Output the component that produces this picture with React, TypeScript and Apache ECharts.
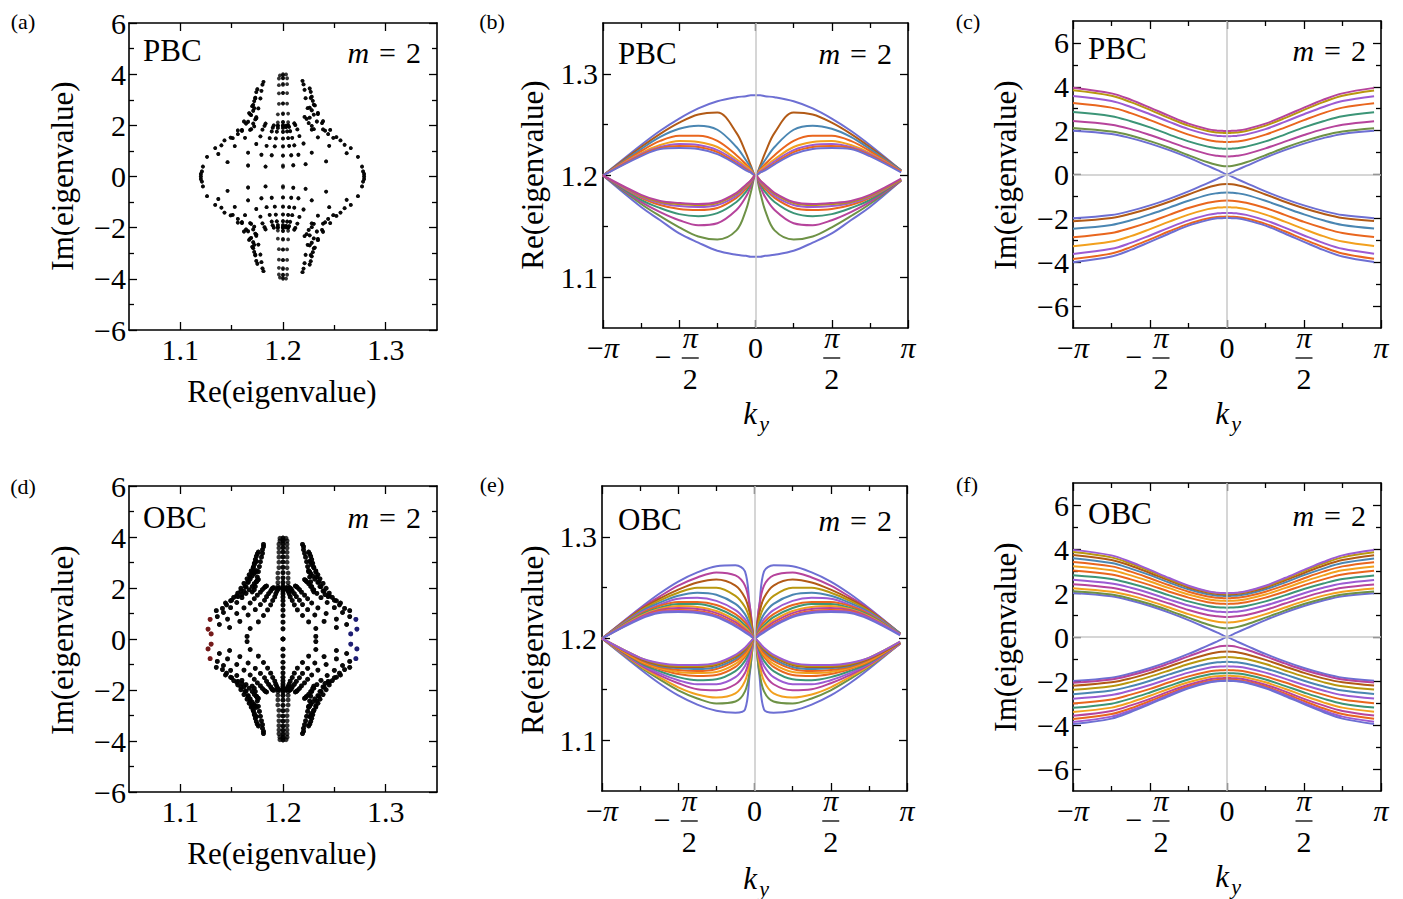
import React, { useEffect, useRef } from "react";
import * as echarts from "echarts";

const PI = Math.PI;
const FONT = "'Liberation Serif', 'Times New Roman', serif";

// ky sample positions shared by all band curves
const KY = [-3.1416, -2.3562, -1.9635, -1.5708, -1.1781, -0.7854, -0.3927, -0.1963, -0.0982, 0, 0.0982, 0.1963, 0.3927, 0.7854, 1.1781, 1.5708, 1.9635, 2.3562, 3.0];

// tick values / labels
const reTicks = [1.1, 1.2, 1.3];
const reMinor = [1.15, 1.25];
const imTicks = [-6, -4, -2, 0, 2, 4, 6];
const imMinor = [-5, -3, -1, 1, 3, 5];
const kyTicks = [-PI, -PI / 2, 0, PI / 2, PI];
const kyMinor = [-3 * PI / 4, -PI / 4, PI / 4, 3 * PI / 4];
const kyPlainLabels = [-PI, 0, PI];
const kyFracLabels = [-PI / 2, PI / 2];

// palette
const P = "#6d6fd3", Br = "#b25a16", Bl = "#4a86b2", Or = "#e9661e", Yo = "#f2a01e", Vi = "#9c5bd3", Mg = "#b6449c", Te = "#3c9577", Gr = "#6e9246", Go = "#b8970f";

// ---------- PBC, Re (branch above 1.2) ----------
const pbcReUp0 = [1.200,1.230,1.244,1.256,1.266,1.273,1.277,1.278,1.279,1.279,1.279,1.278,1.277,1.273,1.266,1.256,1.244,1.230,1.205];
const pbcReUp1 = [1.200,1.228,1.241,1.252,1.260,1.262,1.242,1.222,1.210,1.200,1.210,1.222,1.242,1.262,1.260,1.252,1.241,1.228,1.205];
const pbcReUp2 = [1.200,1.226,1.238,1.246,1.249,1.245,1.228,1.215,1.208,1.200,1.208,1.215,1.228,1.245,1.249,1.246,1.238,1.226,1.205];
const pbcReUp3 = [1.200,1.224,1.234,1.239,1.239,1.234,1.220,1.211,1.206,1.200,1.206,1.211,1.220,1.234,1.239,1.239,1.234,1.224,1.204];
const pbcReUp4 = [1.200,1.222,1.230,1.234,1.233,1.228,1.216,1.209,1.205,1.200,1.205,1.209,1.216,1.228,1.233,1.234,1.230,1.222,1.204];
const pbcReUp5 = [1.200,1.221,1.228,1.231,1.230,1.225,1.214,1.207,1.204,1.200,1.204,1.207,1.214,1.225,1.230,1.231,1.228,1.221,1.204];
const pbcReUp6 = [1.200,1.220,1.227,1.229,1.228,1.223,1.212,1.206,1.203,1.200,1.203,1.206,1.212,1.223,1.228,1.229,1.227,1.220,1.204];
const pbcReUp7 = [1.200,1.219,1.226,1.227,1.226,1.221,1.211,1.205,1.203,1.200,1.203,1.205,1.211,1.221,1.226,1.227,1.226,1.219,1.203];
// ---------- PBC, Re (branch below 1.2) ----------
const pbcReLo0 = [1.200,1.169,1.156,1.143,1.134,1.126,1.122,1.121,1.120,1.120,1.120,1.121,1.122,1.126,1.134,1.143,1.156,1.169,1.195];
const pbcReLo1 = [1.200,1.172,1.160,1.149,1.140,1.137,1.146,1.166,1.183,1.200,1.183,1.166,1.146,1.137,1.140,1.149,1.160,1.172,1.195];
const pbcReLo2 = [1.200,1.174,1.164,1.156,1.151,1.153,1.166,1.179,1.189,1.200,1.189,1.179,1.166,1.153,1.151,1.156,1.164,1.174,1.195];
const pbcReLo3 = [1.200,1.176,1.168,1.162,1.160,1.163,1.174,1.184,1.192,1.200,1.192,1.184,1.174,1.163,1.160,1.162,1.168,1.176,1.196];
const pbcReLo4 = [1.200,1.178,1.171,1.167,1.166,1.168,1.178,1.187,1.193,1.200,1.193,1.187,1.178,1.168,1.166,1.167,1.171,1.178,1.196];
const pbcReLo5 = [1.200,1.179,1.173,1.170,1.169,1.171,1.180,1.189,1.194,1.200,1.194,1.189,1.180,1.171,1.169,1.170,1.173,1.179,1.196];
const pbcReLo6 = [1.200,1.180,1.174,1.172,1.171,1.173,1.182,1.190,1.195,1.200,1.195,1.190,1.182,1.173,1.171,1.172,1.174,1.180,1.196];
const pbcReLo7 = [1.200,1.181,1.175,1.173,1.172,1.174,1.183,1.191,1.195,1.200,1.195,1.191,1.183,1.174,1.172,1.173,1.175,1.181,1.197];
// ---------- PBC, Im (positive band, pairs with Re below 1.2) ----------
const pbcImUp0 = [2.00,1.85,1.66,1.41,1.11,0.77,0.39,0.20,0.10,0.00,0.10,0.20,0.39,0.77,1.11,1.41,1.66,1.85,1.99];
const pbcImUp1 = [2.12,1.96,1.78,1.52,1.22,0.88,0.56,0.43,0.39,0.38,0.39,0.43,0.56,0.88,1.22,1.52,1.78,1.96,2.11];
const pbcImUp2 = [2.44,2.27,2.07,1.80,1.50,1.19,0.93,0.85,0.83,0.82,0.83,0.85,0.93,1.19,1.50,1.80,2.07,2.27,2.43];
const pbcImUp3 = [2.85,2.66,2.43,2.15,1.82,1.51,1.27,1.20,1.18,1.17,1.18,1.20,1.27,1.51,1.82,2.15,2.43,2.66,2.84];
const pbcImUp4 = [3.26,3.05,2.80,2.48,2.14,1.82,1.57,1.50,1.49,1.48,1.49,1.50,1.57,1.82,2.14,2.48,2.80,3.05,3.25];
const pbcImUp5 = [3.58,3.35,3.08,2.75,2.40,2.07,1.83,1.76,1.75,1.74,1.75,1.76,1.83,2.07,2.40,2.75,3.08,3.35,3.57];
const pbcImUp6 = [3.84,3.59,3.30,2.95,2.57,2.23,1.98,1.91,1.90,1.89,1.90,1.91,1.98,2.23,2.57,2.95,3.30,3.59,3.83];
const pbcImUp7 = [3.96,3.70,3.41,3.05,2.67,2.32,2.07,2.00,1.99,1.98,1.99,2.00,2.07,2.32,2.67,3.05,3.41,3.70,3.95];
// ---------- PBC, Im (negative band, pairs with Re above 1.2) ----------
const pbcImLo0 = [-2.00,-1.85,-1.66,-1.41,-1.11,-0.77,-0.39,-0.20,-0.10,0.00,-0.10,-0.20,-0.39,-0.77,-1.11,-1.41,-1.66,-1.85,-1.99];
const pbcImLo1 = [-2.13,-1.98,-1.79,-1.54,-1.24,-0.91,-0.59,-0.48,-0.44,-0.43,-0.44,-0.48,-0.59,-0.91,-1.24,-1.54,-1.79,-1.98,-2.12];
const pbcImLo2 = [-2.47,-2.30,-2.09,-1.82,-1.51,-1.20,-0.93,-0.85,-0.83,-0.82,-0.83,-0.85,-0.93,-1.20,-1.51,-1.82,-2.09,-2.30,-2.46];
const pbcImLo3 = [-2.86,-2.67,-2.44,-2.16,-1.84,-1.53,-1.29,-1.22,-1.20,-1.19,-1.20,-1.22,-1.29,-1.53,-1.84,-2.16,-2.44,-2.67,-2.85];
const pbcImLo4 = [-3.27,-3.06,-2.81,-2.49,-2.15,-1.83,-1.58,-1.51,-1.50,-1.49,-1.50,-1.51,-1.58,-1.83,-2.15,-2.49,-2.81,-3.06,-3.26];
const pbcImLo5 = [-3.62,-3.39,-3.12,-2.78,-2.42,-2.09,-1.84,-1.77,-1.76,-1.75,-1.76,-1.77,-1.84,-2.09,-2.42,-2.78,-3.12,-3.39,-3.61];
const pbcImLo6 = [-3.85,-3.60,-3.31,-2.96,-2.59,-2.25,-2.01,-1.94,-1.93,-1.92,-1.93,-1.94,-2.01,-2.25,-2.59,-2.96,-3.31,-3.60,-3.84];
const pbcImLo7 = [-4.00,-3.74,-3.44,-3.07,-2.69,-2.33,-2.08,-2.00,-1.99,-1.98,-1.99,-2.00,-2.08,-2.33,-2.69,-3.07,-3.44,-3.74,-3.99];

// ---------- OBC, Re (branch above 1.2) ----------
const obcReUp0 = [1.200,1.230,1.244,1.256,1.265,1.271,1.272,1.266,1.232,1.200,1.232,1.266,1.272,1.271,1.265,1.256,1.244,1.230,1.205];
const obcReUp1 = [1.200,1.229,1.241,1.252,1.260,1.265,1.262,1.252,1.232,1.200,1.232,1.252,1.262,1.265,1.260,1.252,1.241,1.229,1.205];
const obcReUp2 = [1.200,1.228,1.239,1.248,1.255,1.258,1.252,1.240,1.225,1.200,1.225,1.240,1.252,1.258,1.255,1.248,1.239,1.228,1.205];
const obcReUp3 = [1.200,1.227,1.237,1.245,1.250,1.250,1.242,1.231,1.219,1.200,1.219,1.231,1.242,1.250,1.250,1.245,1.237,1.227,1.205];
const obcReUp4 = [1.200,1.226,1.235,1.242,1.245,1.243,1.234,1.224,1.214,1.200,1.214,1.224,1.234,1.243,1.245,1.242,1.235,1.226,1.205];
const obcReUp5 = [1.200,1.225,1.233,1.239,1.240,1.237,1.228,1.219,1.211,1.200,1.211,1.219,1.228,1.237,1.240,1.239,1.233,1.225,1.204];
const obcReUp6 = [1.200,1.224,1.232,1.236,1.236,1.233,1.224,1.216,1.209,1.200,1.209,1.216,1.224,1.233,1.236,1.236,1.232,1.224,1.204];
const obcReUp7 = [1.200,1.223,1.230,1.234,1.234,1.230,1.221,1.213,1.207,1.200,1.207,1.213,1.221,1.230,1.234,1.234,1.230,1.223,1.204];
const obcReUp8 = [1.200,1.222,1.229,1.232,1.231,1.227,1.218,1.211,1.206,1.200,1.206,1.211,1.218,1.227,1.231,1.232,1.229,1.222,1.204];
const obcReUp9 = [1.200,1.221,1.228,1.230,1.229,1.225,1.216,1.209,1.205,1.200,1.205,1.209,1.216,1.225,1.229,1.230,1.228,1.221,1.204];
const obcReUp10 = [1.200,1.220,1.227,1.228,1.227,1.223,1.214,1.208,1.204,1.200,1.204,1.208,1.214,1.223,1.227,1.228,1.227,1.220,1.204];
const obcReUp11 = [1.200,1.220,1.226,1.227,1.226,1.222,1.213,1.207,1.204,1.200,1.204,1.207,1.213,1.222,1.226,1.227,1.226,1.220,1.204];
const obcReUp12 = [1.200,1.219,1.225,1.226,1.225,1.221,1.212,1.206,1.203,1.200,1.203,1.206,1.212,1.221,1.225,1.226,1.225,1.219,1.203];
// ---------- OBC, Re (branch below 1.2) ----------
const obcReLo0 = [1.200,1.170,1.156,1.144,1.135,1.129,1.127,1.130,1.165,1.200,1.165,1.130,1.127,1.129,1.135,1.144,1.156,1.170,1.195];
const obcReLo1 = [1.200,1.172,1.160,1.149,1.141,1.136,1.138,1.148,1.168,1.200,1.168,1.148,1.138,1.136,1.141,1.149,1.160,1.172,1.195];
const obcReLo2 = [1.200,1.173,1.162,1.152,1.145,1.142,1.146,1.158,1.176,1.200,1.176,1.158,1.146,1.142,1.145,1.152,1.162,1.173,1.195];
const obcReLo3 = [1.200,1.174,1.164,1.156,1.150,1.149,1.155,1.166,1.181,1.200,1.181,1.166,1.155,1.149,1.150,1.156,1.164,1.174,1.195];
const obcReLo4 = [1.200,1.175,1.166,1.159,1.155,1.155,1.162,1.173,1.185,1.200,1.185,1.173,1.162,1.155,1.155,1.159,1.166,1.175,1.195];
const obcReLo5 = [1.200,1.176,1.168,1.162,1.159,1.160,1.168,1.178,1.188,1.200,1.188,1.178,1.168,1.160,1.159,1.162,1.168,1.176,1.196];
const obcReLo6 = [1.200,1.177,1.170,1.165,1.163,1.164,1.172,1.182,1.190,1.200,1.190,1.182,1.172,1.164,1.163,1.165,1.170,1.177,1.196];
const obcReLo7 = [1.200,1.178,1.171,1.167,1.166,1.167,1.175,1.184,1.192,1.200,1.192,1.184,1.175,1.167,1.166,1.167,1.171,1.178,1.196];
const obcReLo8 = [1.200,1.179,1.172,1.169,1.168,1.170,1.178,1.186,1.193,1.200,1.193,1.186,1.178,1.170,1.168,1.169,1.172,1.179,1.196];
const obcReLo9 = [1.200,1.180,1.173,1.171,1.170,1.172,1.180,1.188,1.194,1.200,1.194,1.188,1.180,1.172,1.170,1.171,1.173,1.180,1.196];
const obcReLo10 = [1.200,1.180,1.174,1.172,1.172,1.174,1.182,1.189,1.195,1.200,1.195,1.189,1.182,1.174,1.172,1.172,1.174,1.180,1.196];
const obcReLo11 = [1.200,1.181,1.175,1.173,1.173,1.175,1.183,1.190,1.195,1.200,1.195,1.190,1.183,1.175,1.173,1.173,1.175,1.181,1.197];
const obcReLo12 = [1.200,1.181,1.176,1.174,1.174,1.176,1.184,1.191,1.196,1.200,1.196,1.191,1.184,1.176,1.174,1.174,1.176,1.181,1.197];
// ---------- OBC, Im (positive band) ----------
const obcImUp0 = [2.00,1.85,1.66,1.41,1.11,0.77,0.39,0.20,0.10,0.00,0.10,0.20,0.39,0.77,1.11,1.41,1.66,1.85,1.99];
const obcImUp1 = [2.08,1.93,1.74,1.50,1.20,0.88,0.57,0.45,0.41,0.40,0.41,0.45,0.57,0.88,1.20,1.50,1.74,1.93,2.07];
const obcImUp2 = [2.22,2.06,1.88,1.63,1.34,1.04,0.78,0.69,0.67,0.66,0.67,0.69,0.78,1.04,1.34,1.63,1.88,2.06,2.21];
const obcImUp3 = [2.40,2.24,2.05,1.80,1.52,1.23,1.00,0.94,0.92,0.91,0.92,0.94,1.00,1.23,1.52,1.80,2.05,2.24,2.39];
const obcImUp4 = [2.60,2.43,2.24,1.99,1.70,1.43,1.22,1.15,1.14,1.13,1.14,1.15,1.22,1.43,1.70,1.99,2.24,2.43,2.59];
const obcImUp5 = [2.81,2.64,2.43,2.18,1.89,1.62,1.41,1.35,1.34,1.33,1.34,1.35,1.41,1.62,1.89,2.18,2.43,2.64,2.80];
const obcImUp6 = [3.02,2.84,2.62,2.36,2.06,1.79,1.58,1.52,1.51,1.50,1.51,1.52,1.58,1.79,2.06,2.36,2.62,2.84,3.01];
const obcImUp7 = [3.22,3.03,2.80,2.52,2.22,1.93,1.72,1.66,1.65,1.64,1.65,1.66,1.72,1.93,2.22,2.52,2.80,3.03,3.21];
const obcImUp8 = [3.41,3.21,2.97,2.67,2.35,2.06,1.84,1.78,1.77,1.76,1.77,1.78,1.84,2.06,2.35,2.67,2.97,3.21,3.40];
const obcImUp9 = [3.58,3.36,3.11,2.81,2.47,2.17,1.94,1.88,1.87,1.86,1.87,1.88,1.94,2.17,2.47,2.81,3.11,3.36,3.57];
const obcImUp10 = [3.73,3.50,3.24,2.91,2.57,2.25,2.02,1.95,1.94,1.93,1.94,1.95,2.02,2.25,2.57,2.91,3.24,3.50,3.72];
const obcImUp11 = [3.86,3.62,3.34,3.00,2.63,2.30,2.06,2.00,1.98,1.97,1.98,2.00,2.06,2.30,2.63,3.00,3.34,3.62,3.85];
const obcImUp12 = [3.96,3.71,3.41,3.05,2.68,2.33,2.08,2.01,2.00,1.99,2.00,2.01,2.08,2.33,2.68,3.05,3.41,3.71,3.95];
// ---------- OBC, Im (negative band) ----------
const obcImLo0 = [-2.00,-1.85,-1.66,-1.41,-1.11,-0.77,-0.39,-0.20,-0.10,0.00,-0.10,-0.20,-0.39,-0.77,-1.11,-1.41,-1.66,-1.85,-1.99];
const obcImLo1 = [-2.08,-1.93,-1.74,-1.50,-1.20,-0.88,-0.57,-0.45,-0.41,-0.40,-0.41,-0.45,-0.57,-0.88,-1.20,-1.50,-1.74,-1.93,-2.07];
const obcImLo2 = [-2.22,-2.06,-1.88,-1.63,-1.34,-1.04,-0.78,-0.69,-0.67,-0.66,-0.67,-0.69,-0.78,-1.04,-1.34,-1.63,-1.88,-2.06,-2.21];
const obcImLo3 = [-2.40,-2.24,-2.05,-1.80,-1.52,-1.23,-1.00,-0.94,-0.92,-0.91,-0.92,-0.94,-1.00,-1.23,-1.52,-1.80,-2.05,-2.24,-2.39];
const obcImLo4 = [-2.60,-2.43,-2.24,-1.99,-1.70,-1.43,-1.22,-1.15,-1.14,-1.13,-1.14,-1.15,-1.22,-1.43,-1.70,-1.99,-2.24,-2.43,-2.59];
const obcImLo5 = [-2.81,-2.64,-2.43,-2.18,-1.89,-1.62,-1.41,-1.35,-1.34,-1.33,-1.34,-1.35,-1.41,-1.62,-1.89,-2.18,-2.43,-2.64,-2.80];
const obcImLo6 = [-3.02,-2.84,-2.62,-2.36,-2.06,-1.79,-1.58,-1.52,-1.51,-1.50,-1.51,-1.52,-1.58,-1.79,-2.06,-2.36,-2.62,-2.84,-3.01];
const obcImLo7 = [-3.22,-3.03,-2.80,-2.52,-2.22,-1.93,-1.72,-1.66,-1.65,-1.64,-1.65,-1.66,-1.72,-1.93,-2.22,-2.52,-2.80,-3.03,-3.21];
const obcImLo8 = [-3.41,-3.21,-2.97,-2.67,-2.35,-2.06,-1.84,-1.78,-1.77,-1.76,-1.77,-1.78,-1.84,-2.06,-2.35,-2.67,-2.97,-3.21,-3.40];
const obcImLo9 = [-3.58,-3.36,-3.11,-2.81,-2.47,-2.17,-1.94,-1.88,-1.87,-1.86,-1.87,-1.88,-1.94,-2.17,-2.47,-2.81,-3.11,-3.36,-3.57];
const obcImLo10 = [-3.73,-3.50,-3.24,-2.91,-2.57,-2.25,-2.02,-1.95,-1.94,-1.93,-1.94,-1.95,-2.02,-2.25,-2.57,-2.91,-3.24,-3.50,-3.72];
const obcImLo11 = [-3.86,-3.62,-3.34,-3.00,-2.63,-2.30,-2.06,-2.00,-1.98,-1.97,-1.98,-2.00,-2.06,-2.30,-2.63,-3.00,-3.34,-3.62,-3.85];
const obcImLo12 = [-3.96,-3.71,-3.41,-3.05,-2.68,-2.33,-2.08,-2.01,-2.00,-1.99,-2.00,-2.01,-2.08,-2.33,-2.68,-3.05,-3.41,-3.71,-3.95];

const pbcReUp = [pbcReUp0, pbcReUp1, pbcReUp2, pbcReUp3, pbcReUp4, pbcReUp5, pbcReUp6, pbcReUp7];
const pbcReLo = [pbcReLo0, pbcReLo1, pbcReLo2, pbcReLo3, pbcReLo4, pbcReLo5, pbcReLo6, pbcReLo7];
const pbcImUp = [pbcImUp0, pbcImUp1, pbcImUp2, pbcImUp3, pbcImUp4, pbcImUp5, pbcImUp6, pbcImUp7];
const pbcImLo = [pbcImLo0, pbcImLo1, pbcImLo2, pbcImLo3, pbcImLo4, pbcImLo5, pbcImLo6, pbcImLo7];
const pbcColA = [P, Br, Bl, Or, Yo, Vi, Or, P]; // Re above / Im negative
const pbcColB = [P, Gr, Mg, Te, Or, Vi, Go, Mg]; // Re below / Im positive

const obcReUp = [obcReUp0, obcReUp1, obcReUp2, obcReUp3, obcReUp4, obcReUp5, obcReUp6, obcReUp7, obcReUp8, obcReUp9, obcReUp10, obcReUp11, obcReUp12];
const obcReLo = [obcReLo0, obcReLo1, obcReLo2, obcReLo3, obcReLo4, obcReLo5, obcReLo6, obcReLo7, obcReLo8, obcReLo9, obcReLo10, obcReLo11, obcReLo12];
const obcImUp = [obcImUp0, obcImUp1, obcImUp2, obcImUp3, obcImUp4, obcImUp5, obcImUp6, obcImUp7, obcImUp8, obcImUp9, obcImUp10, obcImUp11, obcImUp12];
const obcImLo = [obcImLo0, obcImLo1, obcImLo2, obcImLo3, obcImLo4, obcImLo5, obcImLo6, obcImLo7, obcImLo8, obcImLo9, obcImLo10, obcImLo11, obcImLo12];
const obcColA = [P, Mg, Br, Go, Bl, Vi, Or, Te, Yo, Mg, Or, Vi, P];
const obcColB = [P, Gr, Yo, Mg, Vi, Te, Or, Yo, Or, Bl, Br, Go, Vi];

const GRIDS = [
  { left: 129, top: 23, width: 308, height: 307 },
  { left: 603, top: 23, width: 305, height: 305 },
  { left: 1073, top: 21, width: 308, height: 307 },
  { left: 129, top: 486, width: 308, height: 306 },
  { left: 602, top: 486, width: 305, height: 305 },
  { left: 1073, top: 483, width: 308, height: 308 },
];

const LFS = 30; // tick label font size
const labelRich = {
  t: { fontSize: LFS, fontFamily: FONT, color: "#000", lineHeight: LFS },
  p: { fontSize: LFS, fontFamily: FONT, fontStyle: "italic", color: "#000", lineHeight: LFS },
};
const wrap = (s: string) => "{t|" + s + "}";
const minusFmt = (v: number) => wrap(v < 0 ? "\u2212" + Math.abs(v) : String(v));
const fixFmt = (v: number) => wrap(v.toFixed(1));

const SPEC_SC_X = { min: 1.05, max: 1.35, majors: reTicks, minors: reMinor, labels: reTicks, fmt: fixFmt, margin: 4 };
const SPEC_SC_Y = { min: -6, max: 6, majors: imTicks, minors: imMinor, labels: imTicks, fmt: minusFmt, margin: 3 };
const SPEC_RE_Y = { min: 1.05, max: 1.35, majors: reTicks, minors: reMinor, labels: reTicks, fmt: fixFmt, margin: 5 };
const SPEC_IM_Y = { min: -7, max: 7, majors: imTicks, minors: imMinor, labels: imTicks, fmt: minusFmt, margin: 4 };
const SPEC_KY_X = {
  min: -PI, max: PI, majors: kyTicks, minors: kyMinor, labels: kyPlainLabels,
  fmt: (v: number) => (v < -1 ? "{t|\u2212}{p|\u03c0}" : v > 1 ? "{p|\u03c0}" : "{t|0}"),
  margin: 4,
};

function makeAxes(g: number, dim: "x" | "y", spec: any) {
  const lineStyle = { color: "#000", width: 1.6 };
  const tickStyle = { color: "#000", width: 1.3 };
  const pos = dim === "x" ? ["bottom", "top"] : ["left", "right"];
  const base = { gridIndex: g, type: "value", min: spec.min, max: spec.max, splitLine: { show: false }, silent: true, axisPointer: { show: false } };
  const lab = {
    show: true, customValues: spec.labels, formatter: spec.fmt, margin: spec.margin,
    fontSize: LFS, fontFamily: FONT, color: "#000", lineHeight: LFS, showMinLabel: true, showMaxLabel: true,
    rich: labelRich,
  };
  return [
    { ...base, position: pos[0], axisLine: { show: true, onZero: false, lineStyle }, axisTick: { show: true, inside: true, length: 8, customValues: spec.majors, lineStyle: tickStyle }, axisLabel: lab },
    { ...base, position: pos[0], axisLine: { show: false, onZero: false }, axisTick: { show: true, inside: true, length: 5, customValues: spec.minors, lineStyle: tickStyle }, axisLabel: { show: false } },
    { ...base, position: pos[1], axisLine: { show: true, onZero: false, lineStyle }, axisTick: { show: true, inside: true, length: 8, customValues: spec.majors, lineStyle: tickStyle }, axisLabel: { show: false } },
    { ...base, position: pos[1], axisLine: { show: false, onZero: false }, axisTick: { show: true, inside: true, length: 5, customValues: spec.minors, lineStyle: tickStyle }, axisLabel: { show: false } },
  ];
}

function lineSeries(g: number, arrays: number[][], colors: string[]) {
  return arrays.map((arr, j) => ({
    type: "line", xAxisIndex: 4 * g, yAxisIndex: 4 * g, silent: true,
    data: KY.map((k, i) => [k, arr[i]]), showSymbol: false, symbol: "none",
    smooth: 0.35, lineStyle: { width: 2, color: colors[j] }, itemStyle: { color: colors[j] }, z: 3,
  }));
}

function refLines(g: number, withH: boolean) {
  const data: any[] = [{ xAxis: 0 }];
  if (withH) data.push({ yAxis: 0 });
  return {
    type: "line", xAxisIndex: 4 * g, yAxisIndex: 4 * g, data: [], silent: true, z: 1,
    markLine: { silent: true, symbol: "none", label: { show: false }, lineStyle: { color: "#c9c9c9", type: "solid", width: 1.5 }, data, animation: false },
  };
}

function scatterSeries(g: number, reA: number[][], imA: number[][], reB: number[][], imB: number[][], size: number) {
  const pts: number[][] = [];
  reA.forEach((re, j) => re.forEach((r, i) => { pts.push([r, imA[j][i]]); pts.push([r, -imA[j][i]]); }));
  reB.forEach((re, j) => re.forEach((r, i) => { pts.push([r, imB[j][i]]); pts.push([r, -imB[j][i]]); }));
  return {
    type: "scatter", xAxisIndex: 4 * g, yAxisIndex: 4 * g, silent: true, data: pts,
    symbol: "circle", symbolSize: size, itemStyle: { color: "#000" }, z: 3,
  };
}

function txt(x: number, y: number, text: string, size: number, extra: any = {}) {
  return {
    type: "text", x, y, silent: true, rotation: extra.rotation || 0, z: 10,
    style: {
      text, fill: "#000", fontSize: size, fontFamily: FONT, fontStyle: extra.italic ? "italic" : "normal",
      align: extra.align || "center", verticalAlign: "middle", textAlign: extra.align || "center", textVerticalAlign: "middle",
      rich: extra.rich,
    },
  };
}

const mRich = {
  i: { fontStyle: "italic", fontSize: 30, fontFamily: FONT, fill: "#000", color: "#000" },
  e: { fontSize: 30, fontFamily: FONT, padding: [0, 10], fill: "#000", color: "#000" },
};

function baseGraphics() {
  const g: any[] = [];
  const letters = [["(a)", 23, 21], ["(b)", 492, 21], ["(c)", 968, 21], ["(d)", 23, 486], ["(e)", 492, 484], ["(f)", 967, 484]];
  letters.forEach(([t, x, y]) => g.push(txt(x as number, y as number, t as string, 22)));
  const tags = [["PBC", 143, 50], ["PBC", 618, 53], ["PBC", 1088, 48], ["OBC", 143, 517], ["OBC", 618, 519], ["OBC", 1088, 513]];
  tags.forEach(([t, x, y]) => g.push(txt(x as number, y as number, t as string, 31, { align: "left" })));
  const ms = [[421, 52], [892, 53], [1366, 50], [421, 517], [892, 520], [1366, 515]];
  ms.forEach(([x, y]) => g.push(txt(x, y, "{i|m}{e|=}2", 30, { align: "right", rich: mRich })));
  // axis names
  g.push(txt(282, 391, "Re(eigenvalue)", 31));
  g.push(txt(282, 853, "Re(eigenvalue)", 31));
  g.push(txt(62, 176, "Im(eigenvalue)", 31, { rotation: PI / 2 }));
  g.push(txt(62, 640, "Im(eigenvalue)", 31, { rotation: PI / 2 }));
  g.push(txt(532, 175, "Re(eigenvalue)", 31, { rotation: PI / 2 }));
  g.push(txt(532, 640, "Re(eigenvalue)", 31, { rotation: PI / 2 }));
  g.push(txt(1005, 175, "Im(eigenvalue)", 31, { rotation: PI / 2 }));
  g.push(txt(1005, 637, "Im(eigenvalue)", 31, { rotation: PI / 2 }));
  const kys = [[755, 413], [1227, 413], [755, 878], [1227, 876]];
  kys.forEach(([x, y]) => {
    g.push(txt(x - 5, y, "k", 31, { italic: true }));
    g.push(txt(x + 9, y + 10, "y", 22, { italic: true }));
  });
  return g;
}

export default function App() {
  const ref = useRef<HTMLDivElement>(null);
  useEffect(() => {
    if (!ref.current) return;
    const chart = echarts.init(ref.current, null, { renderer: "svg" });
    const xAxis: any[] = [];
    const yAxis: any[] = [];
    const xSpecs = [SPEC_SC_X, SPEC_KY_X, SPEC_KY_X, SPEC_SC_X, SPEC_KY_X, SPEC_KY_X];
    const ySpecs = [SPEC_SC_Y, SPEC_RE_Y, SPEC_IM_Y, SPEC_SC_Y, SPEC_RE_Y, SPEC_IM_Y];
    GRIDS.forEach((_, g) => {
      xAxis.push(...makeAxes(g, "x", xSpecs[g]));
      yAxis.push(...makeAxes(g, "y", ySpecs[g]));
    });
    const series: any[] = [
      refLines(1, false), refLines(2, true), refLines(4, false), refLines(5, true),
      scatterSeries(0, pbcReUp, pbcImLo, pbcReLo, pbcImUp, 3.8),
      scatterSeries(3, obcReUp, obcImLo, obcReLo, obcImUp, 4.8),
      ...lineSeries(1, pbcReUp, pbcColA), ...lineSeries(1, pbcReLo, pbcColB),
      ...lineSeries(2, pbcImLo, pbcColA), ...lineSeries(2, pbcImUp, pbcColB),
      ...lineSeries(4, obcReUp, obcColA), ...lineSeries(4, obcReLo, obcColB),
      ...lineSeries(5, obcImLo, obcColA), ...lineSeries(5, obcImUp, obcColB),
    ];
    const option: any = {
      animation: false,
      backgroundColor: "#fff",
      grid: GRIDS.map((gr) => ({ ...gr, containLabel: false, outerBoundsMode: "none" })),
      xAxis, yAxis, series,
      visualMap: [{
        type: "piecewise", show: false, seriesIndex: 5, dimension: 0,
        pieces: [{ lt: 1.135, color: "#6e1010" }, { gte: 1.135, lte: 1.265, color: "#000000" }, { gt: 1.265, color: "#15156e" }],
      }],
      graphic: baseGraphics(),
    };
    chart.setOption(option);
    // fraction labels for ±π/2 placed at the axis ticks
    const extra: any[] = [];
    [1, 2, 4, 5].forEach((g) => {
      const yB = GRIDS[g].top + GRIDS[g].height;
      kyFracLabels.forEach((v) => {
        const px = chart.convertToPixel({ xAxisIndex: 4 * g } as any, v) as unknown as number;
        const cx = v < 0 ? px + 11 : px;
        extra.push(txt(cx, yB + 9, "\u03c0", 30, { italic: true }));
        extra.push({ type: "line", silent: true, z: 10, shape: { x1: cx - 8.5, y1: yB + 30, x2: cx + 8.5, y2: yB + 30 }, style: { stroke: "#000", lineWidth: 1.3 } });
        extra.push(txt(cx, yB + 50, "2", 30));
        if (v < 0) extra.push(txt(px - 16, yB + 28, "\u2212", 30));
      });
    });
    chart.setOption({ graphic: [...baseGraphics(), ...extra] });
    return () => chart.dispose();
  }, []);
  return <div ref={ref} style={{ position: "fixed", left: 0, top: 0, width: 1403, height: 899, background: "#fff" }} />;
}
